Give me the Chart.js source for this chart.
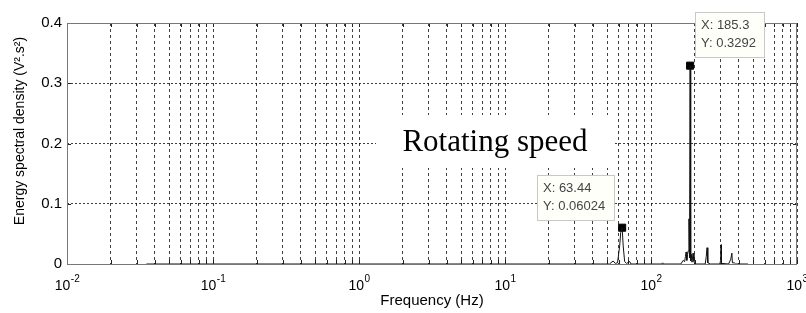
<!DOCTYPE html>
<html lang="en">
<head>
<meta charset="UTF-8">
<title>Energy spectral density</title>
<script src="https://cdn.jsdelivr.net/npm/chart.js@4.4.1/dist/chart.umd.min.js"></script>
<style>
  html, body { margin: 0; padding: 0; background: #fff; }
  .wrap { width: 806px; height: 313px; position: relative; }
</style>
</head>
<body>
<div class="wrap"><canvas id="esd"></canvas></div>
<script>
// spectrum (Hz, V^2.s^2)
const freqHz = [0.035, 45, 52, 55, 57, 59, 61, 62, 63.44, 64.5, 66, 68, 71.5, 73,
  118, 120, 122, 160, 166, 170, 172, 174, 176, 178, 180, 182, 183.5, 185.3, 187,
  189, 191, 194, 197, 200, 235, 239, 242, 245, 255, 296, 300, 302, 304, 340, 352,
  358, 361, 372, 380, 461];
const esd = [0, 0, 0, 0.005, 0.001, 0.002, 0.03, 0.052, 0.06024, 0.03, 0.004, 0.001, 0.004, 0,
  0, 0.002, 0, 0, 0.006, 0.004, 0.012, 0.02, 0.006, 0.016, 0.022, 0.075, 0.01, 0.3292, 0.005,
  0.016, 0.003, 0.018, 0.004, 0, 0, 0.012, 0.027, 0.002, 0, 0, 0.006, 0.032, 0.001, 0, 0.008,
  0.018, 0.002, 0.002, 0, 0];

// data tips
const tipFreq = [63.44, 185.3];
const tipValue = [0.06024, 0.3292];
const tipLabelX = ['X: 63.44', 'X: 185.3'];
const tipLabelY = ['Y: 0.06024', 'Y: 0.3292'];

// axes
const xDecades = [0.01, 0.1, 1, 10, 100, 1000];
const xExponents = ['-2', '-1', '0', '1', '2', '3'];
const yTicks = [0, 0.1, 0.2, 0.3, 0.4];
const yTickLabels = ['0', '0.1', '0.2', '0.3', '0.4'];
const xTitle = 'Frequency (Hz)';
const yTitle = 'Energy spectral density (V\u00b2.s\u00b2)';
const noteText = 'Rotating speed';

const SANS = 'Arial, "Liberation Sans", sans-serif';
const SERIF = '"Times New Roman", "Liberation Serif", serif';

// every 1..9 x 10^n position gets a grid line
const xGridValues = [];
xDecades.forEach((d, i) => {
  if (i === xDecades.length - 1) { xGridValues.push(d); return; }
  for (let k = 1; k < 10; k++) xGridValues.push(k * d);
});

const matlabAxes = {
  id: 'matlabAxes',
  beforeDatasetsDraw(chart) {
    const { ctx, chartArea: a, scales: { x, y } } = chart;
    ctx.save();
    // inward tick marks
    ctx.strokeStyle = '#222';
    ctx.lineWidth = 1;
    ctx.beginPath();
    xGridValues.forEach(v => {
      const px = Math.round(x.getPixelForValue(v)) + 0.5;
      ctx.moveTo(px, a.bottom); ctx.lineTo(px, a.bottom - 4);
      ctx.moveTo(px, a.top); ctx.lineTo(px, a.top + 4);
    });
    yTicks.forEach(v => {
      const py = Math.round(y.getPixelForValue(v)) + 0.5;
      ctx.moveTo(a.left, py); ctx.lineTo(a.left + 4, py);
      ctx.moveTo(a.right, py); ctx.lineTo(a.right - 4, py);
    });
    ctx.stroke();
    // axes box
    ctx.strokeStyle = '#777';
    ctx.strokeRect(a.left + 0.5, a.top + 0.5, a.right - a.left - 1, a.bottom - a.top);
    // text annotation on a white patch
    ctx.fillStyle = '#fff';
    ctx.fillRect(376, 115, 239, 53);
    ctx.fillStyle = '#000';
    ctx.font = '31px ' + SERIF;
    ctx.textAlign = 'center';
    ctx.textBaseline = 'alphabetic';
    ctx.fillText(noteText, 495, 151);
    ctx.restore();
  },
  afterDatasetsDraw(chart) {
    const { ctx, chartArea: a, scales: { x, y } } = chart;
    ctx.save();
    ctx.fillStyle = '#000';
    // x tick labels 10^n
    xDecades.forEach((d, i) => {
      const px = x.getPixelForValue(d);
      ctx.font = '14px ' + SANS;
      const wb = ctx.measureText('10').width;
      ctx.font = '10px ' + SANS;
      const we = ctx.measureText(xExponents[i]).width;
      const left = px - (wb + we) / 2;
      ctx.textAlign = 'left';
      ctx.textBaseline = 'alphabetic';
      ctx.font = '14px ' + SANS;
      ctx.fillText('10', left, 290);
      ctx.font = '10px ' + SANS;
      ctx.fillText(xExponents[i], left + wb + 0.5, 282);
    });
    // axis titles
    ctx.font = '15px ' + SANS;
    ctx.textAlign = 'center';
    ctx.textBaseline = 'middle';
    ctx.fillText(xTitle, (a.left + a.right) / 2, 301);
    ctx.save();
    ctx.font = '14px ' + SANS;
    ctx.translate(20, 131);
    ctx.rotate(-Math.PI / 2);
    ctx.fillText(yTitle, 0, 0);
    ctx.restore();
    // data tip boxes
    ctx.font = '13px ' + SANS;
    tipFreq.forEach((f, i) => {
      const mx = x.getPixelForValue(f);
      const my = y.getPixelForValue(tipValue[i]);
      const w = Math.ceil(Math.max(ctx.measureText(tipLabelX[i]).width,
        ctx.measureText(tipLabelY[i]).width)) + 14;
      const h = 45;
      const bx = i === 0 ? Math.round(mx - 8 - w) : Math.round(mx + 5);
      const by = i === 0 ? Math.round(my - 53) : Math.round(my - 54);
      ctx.fillStyle = '#fffffa';
      ctx.fillRect(bx + 0.5, by + 0.5, w, h);
      ctx.strokeStyle = '#c8c8c8';
      ctx.strokeRect(bx + 0.5, by + 0.5, w, h);
      ctx.fillStyle = '#444';
      ctx.textAlign = 'left';
      ctx.textBaseline = 'middle';
      ctx.fillText(tipLabelX[i], bx + 6, by + 13);
      ctx.fillText(tipLabelY[i], bx + 6, by + 31);
    });
    ctx.restore();
  }
};

const ctx = document.getElementById('esd').getContext('2d');
const chart = new Chart(ctx, {
  type: 'line',
  data: {
    datasets: [{
      label: 'ESD',
      data: freqHz.map((f, i) => ({ x: f, y: esd[i] })),
      borderColor: '#111',
      borderWidth: 1,
      pointRadius: 0,
      tension: 0,
      fill: false
    }, {
      label: 'Data tips',
      data: tipFreq.map((f, i) => ({ x: f, y: tipValue[i] })),
      showLine: false,
      pointStyle: 'rect',
      pointRadius: 5,
      backgroundColor: '#000',
      borderColor: '#000',
      clip: false
    }]
  },
  options: {
    responsive: true,
    maintainAspectRatio: false,
    animation: false,
    layout: { padding: { top: 23, right: 9, left: 0, bottom: 0 } },
    plugins: { legend: { display: false }, tooltip: { enabled: false } },
    scales: {
      x: {
        type: 'logarithmic',
        min: 0.01,
        max: 1000,
        afterBuildTicks: s => { s.ticks = xGridValues.map(v => ({ value: v })); },
        afterFit: s => { s.height = 49; },
        ticks: { display: false },
        grid: { color: 'rgba(0,0,0,0.75)', lineWidth: 1, drawTicks: false },
        border: { display: false, dash: [3, 3] }
      },
      y: {
        type: 'linear',
        min: 0,
        max: 0.4,
        afterBuildTicks: s => { s.ticks = yTicks.map(v => ({ value: v })); },
        afterFit: s => { s.width = 67; },
        ticks: {
          callback: (v, i) => yTickLabels[i],
          font: { family: SANS, size: 15 },
          color: '#000',
          padding: 5
        },
        grid: { color: 'rgba(0,0,0,0.75)', lineWidth: 1, drawTicks: false },
        border: { display: false, dash: [2, 2] }
      }
    }
  },
  plugins: [matlabAxes]
});
</script>
</body>
</html>
